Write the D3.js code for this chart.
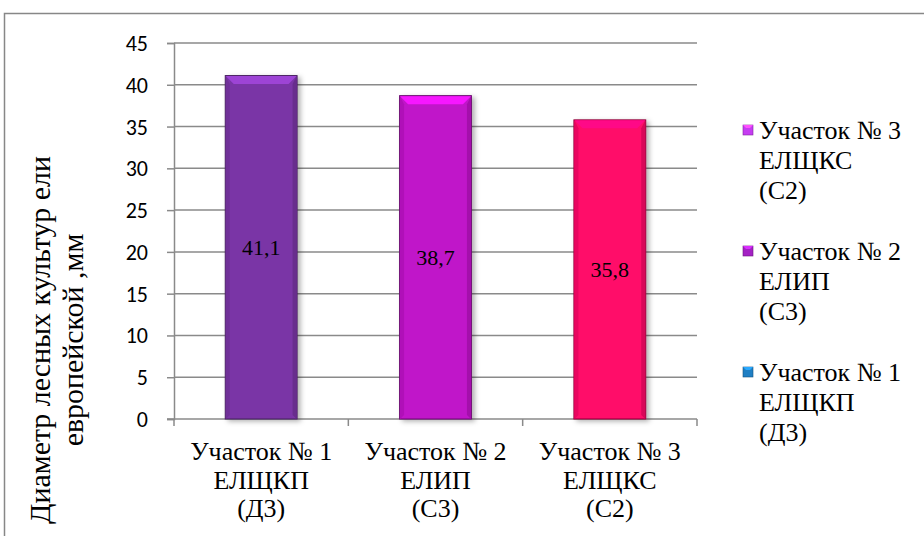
<!DOCTYPE html>
<html lang="ru">
<head>
    <meta charset="UTF-8">
    <title>Диаметр лесных культур ели европейской</title>
    <script src="https://d3js.org/d3.v7.min.js"></script>
    <style>
        body {
            margin: 0;
            background-color: #ffffff;
        }
    </style>
</head>
<body>
    <svg id="chart"></svg>

    <script>
        // данные диаграммы
        const categories = [
            ["Участок № 1", "ЕЛЩКП", "(Д3)"],
            ["Участок № 2", "ЕЛИП", "(С3)"],
            ["Участок № 3", "ЕЛЩКС", "(С2)"]
        ];
        const values = [41.1, 38.7, 35.8];
        const valueLabels = ["41,1", "38,7", "35,8"];
        const barColors = ["#7a35a6", "#c012c9", "#ff0769"];
        const yTicks = [0, 5, 10, 15, 20, 25, 30, 35, 40, 45];
        const legendLabels = [
            ["Участок № 3", "ЕЛЩКС", "(С2)"],
            ["Участок № 2", "ЕЛИП", "(С3)"],
            ["Участок № 1", "ЕЛЩКП", "(Д3)"]
        ];
        const legendColors = ["#c63cf2", "#a421c4", "#1f7fc4"];
        const yTitle = ["Диаметр лесных культур ели", "европейской ,мм"];

        const SERIF = "Liberation Serif, DejaVu Serif, serif";
        const SANS = "Carlito, Lato, Open Sans, sans-serif";

        const width = 924, height = 536;
        const plot = { left: 174, right: 697, top: 43, bottom: 419 };

        const svg = d3.select("#chart")
            .attr("width", width)
            .attr("height", height);

        // тень для столбцов
        const defs = svg.append("defs");
        const shadow = defs.append("filter").attr("id", "shadow")
            .attr("x", "-20%").attr("y", "-10%").attr("width", "150%").attr("height", "130%");
        shadow.append("feDropShadow")
            .attr("dx", 3).attr("dy", 2).attr("stdDeviation", 2.5)
            .attr("flood-color", "#000").attr("flood-opacity", 0.3);

        // рамка области диаграммы
        svg.append("rect")
            .attr("x", 4.5).attr("y", 13.5)
            .attr("width", 940).attr("height", 540)
            .attr("fill", "#fff")
            .attr("stroke", "#878787")
            .attr("stroke-width", 1.5);

        const x = d3.scaleBand()
            .domain(d3.range(categories.length))
            .range([plot.left, plot.right])
            .paddingInner(0.588)
            .paddingOuter(0.294);

        const y = d3.scaleLinear()
            .domain([0, 45])
            .range([plot.bottom, plot.top]);

        // сетка
        svg.append("g")
            .selectAll("line")
            .data(yTicks.filter(d => d > 0))
            .enter().append("line")
            .attr("x1", plot.left).attr("x2", plot.right)
            .attr("y1", d => y(d)).attr("y2", d => y(d))
            .attr("stroke", "#8a8a8a")
            .attr("stroke-width", 1.5);

        // ось Y
        const yAxis = svg.append("g")
            .attr("transform", `translate(${plot.left},0)`)
            .call(d3.axisLeft(y).tickValues(yTicks).tickSize(7).tickPadding(19));
        yAxis.attr("font-family", SANS).attr("font-size", 22);
        yAxis.select(".domain").attr("stroke", "#8a8a8a").attr("stroke-width", 1.5);
        yAxis.selectAll(".tick line").attr("stroke", "#8a8a8a").attr("stroke-width", 1.5);
        yAxis.selectAll(".tick text").attr("fill", "#000").attr("dy", "0.34em");

        // ось X
        const boundaries = d3.range(categories.length + 1).map(i => plot.left + i * x.step());
        svg.append("line")
            .attr("x1", plot.left - 7).attr("x2", plot.right)
            .attr("y1", plot.bottom).attr("y2", plot.bottom)
            .attr("stroke", "#8a8a8a").attr("stroke-width", 1.5);
        svg.append("g")
            .selectAll("line")
            .data(boundaries)
            .enter().append("line")
            .attr("x1", d => d).attr("x2", d => d)
            .attr("y1", plot.bottom).attr("y2", plot.bottom + 7)
            .attr("stroke", "#8a8a8a").attr("stroke-width", 1.5);

        svg.append("g")
            .style("font-family", SERIF)
            .style("font-size", "26px")
            .selectAll("text")
            .data(categories)
            .enter().append("text")
            .attr("text-anchor", "middle")
            .attr("x", (d, i) => x(i) + x.bandwidth() / 2)
            .attr("y", 460)
            .selectAll("tspan")
            .data(d => d)
            .enter().append("tspan")
            .attr("x", function () { return d3.select(this.parentNode).attr("x"); })
            .attr("dy", (d, i) => i === 0 ? 0 : 28.5)
            .text(d => d);

        // столбцы
        const bars = svg.append("g")
            .selectAll("g")
            .data(values)
            .enter().append("g");

        bars.append("rect")
            .attr("x", (d, i) => x(i))
            .attr("y", d => y(d))
            .attr("width", x.bandwidth())
            .attr("height", d => plot.bottom - y(d))
            .attr("fill", (d, i) => barColors[i])
            .attr("stroke", (d, i) => d3.color(barColors[i]).darker(1.6))
            .attr("stroke-width", 1)
            .attr("filter", "url(#shadow)");

        // фаска сверху
        bars.append("path")
            .attr("d", (d, i) => {
                const x0 = x(i) + 0.5, x1 = x(i) + x.bandwidth() - 0.5, t = y(d) + 0.5, b = 8;
                return `M${x0},${t}L${x1},${t}L${x1 - b},${t + b}L${x0 + b},${t + b}Z`;
            })
            .attr("fill", (d, i) => d3.color(barColors[i]).brighter(0.7));
        // боковые грани
        bars.append("path")
            .attr("d", (d, i) => {
                const x0 = x(i) + 0.5, t = y(d) + 0.5, b = 4;
                return `M${x0},${t}L${x0 + b},${t + 8}L${x0 + b},${plot.bottom - b}L${x0},${plot.bottom}Z`;
            })
            .attr("fill", (d, i) => d3.color(barColors[i]).darker(0.25));
        bars.append("path")
            .attr("d", (d, i) => {
                const x1 = x(i) + x.bandwidth() - 0.5, t = y(d) + 0.5, b = 4;
                return `M${x1},${t}L${x1 - b},${t + 8}L${x1 - b},${plot.bottom - b}L${x1},${plot.bottom}Z`;
            })
            .attr("fill", (d, i) => d3.color(barColors[i]).darker(0.45));

        bars.append("text")
            .style("font-family", SERIF)
            .style("font-size", "22px")
            .attr("text-anchor", "middle")
            .attr("x", (d, i) => x(i) + x.bandwidth() / 2)
            .attr("y", d => (y(d) + plot.bottom) / 2)
            .attr("dy", "0.35em")
            .text((d, i) => valueLabels[i]);

        // подпись оси Y: размер подбирается так, чтобы первая строка заняла ~368px
        const title = svg.append("text")
            .style("font-family", SERIF)
            .style("font-size", "30px")
            .attr("text-anchor", "middle")
            .attr("transform", "translate(40,340) rotate(-90)");
        const titleLines = title.selectAll("tspan")
            .data(yTitle)
            .enter().append("tspan")
            .attr("x", 0)
            .text(d => d);
        const len = titleLines.nodes()[0].getComputedTextLength();
        const titleSize = Math.min(34, 30 * 368 / len);
        title.style("font-size", titleSize + "px");
        titleLines.attr("dy", (d, i) => i === 0 ? "0.35em" : titleSize * 1.1);

        // легенда
        const legend = svg.append("g")
            .selectAll("g")
            .data(legendLabels)
            .enter().append("g")
            .attr("transform", (d, i) => `translate(743,${130 + i * 121})`);

        legend.append("rect")
            .attr("x", 0).attr("y", -5)
            .attr("width", 10).attr("height", 10)
            .attr("fill", (d, i) => legendColors[i])
            .attr("stroke", (d, i) => d3.color(legendColors[i]).darker(1.2))
            .attr("stroke-width", 0.6);
        legend.append("path")
            .attr("d", "M0,-5L10,-5L7,-2L3,-2Z")
            .attr("fill", (d, i) => d3.color(legendColors[i]).brighter(0.8));

        legend.append("text")
            .style("font-family", SERIF)
            .style("font-size", "26px")
            .selectAll("tspan")
            .data(d => d)
            .enter().append("tspan")
            .attr("x", 16)
            .attr("dy", (d, i) => i === 0 ? "0.35em" : 30)
            .text(d => d);
    </script>
</body>
</html>
